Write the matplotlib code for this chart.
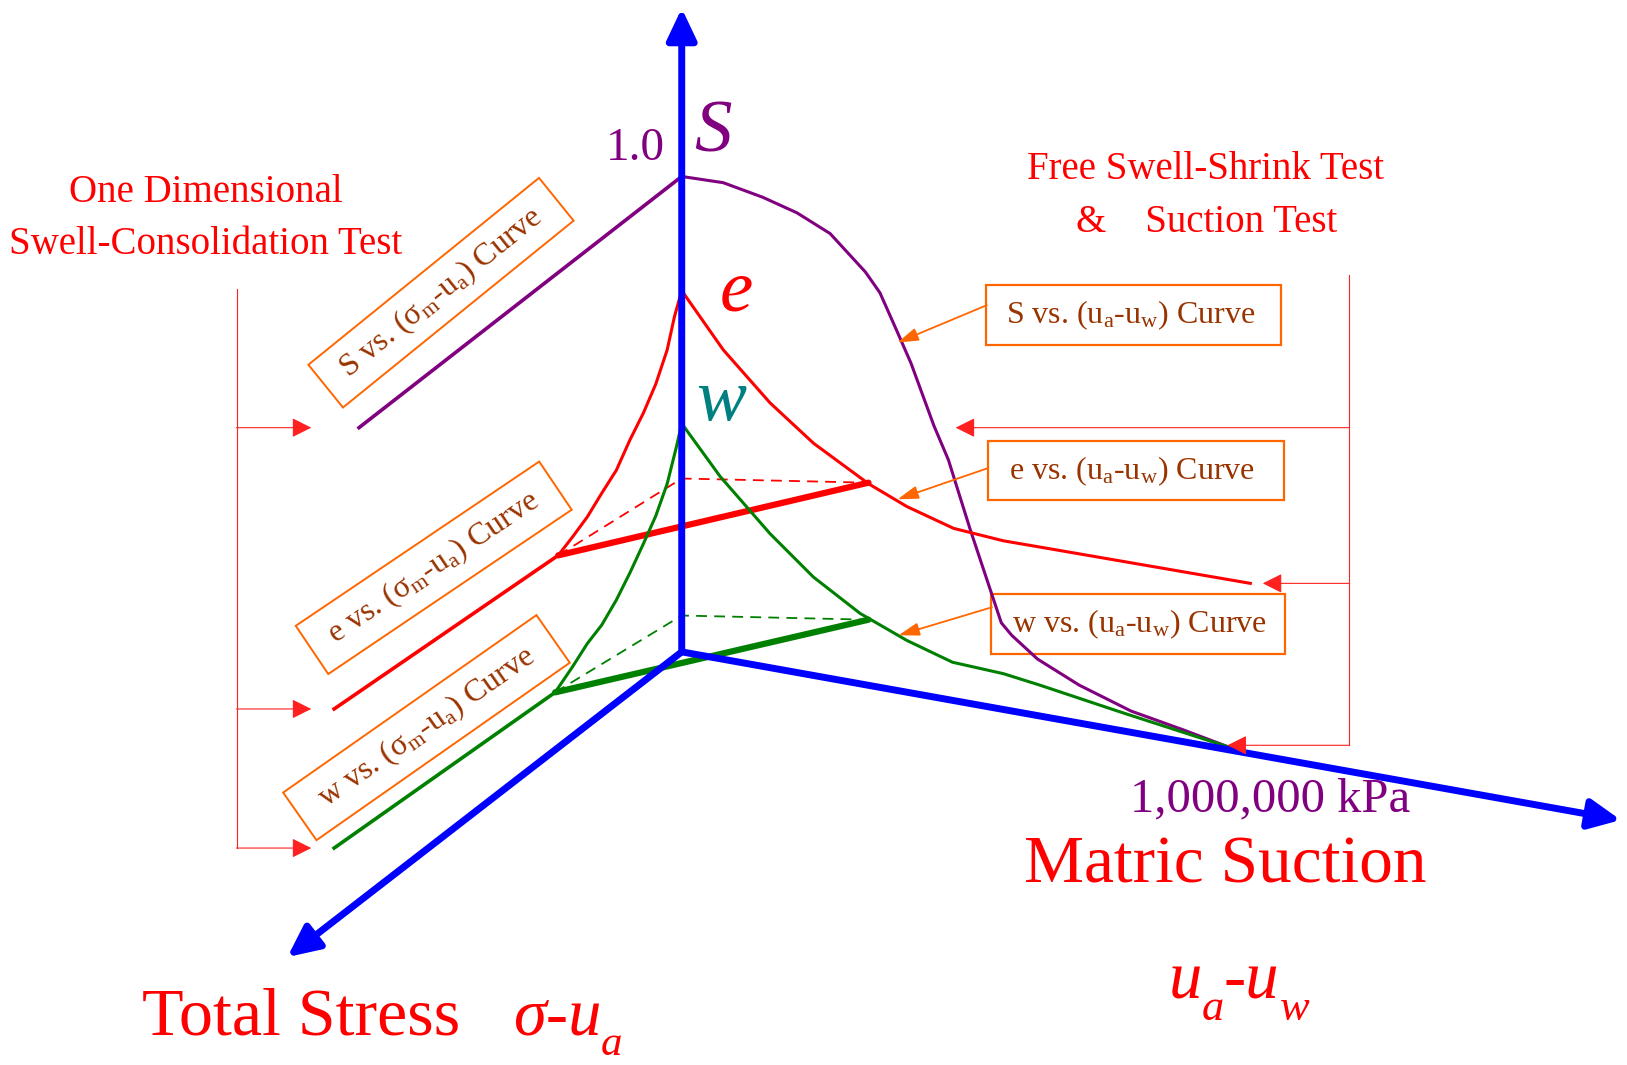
import matplotlib
matplotlib.use('Agg')
import matplotlib.pyplot as plt
from matplotlib.patches import Rectangle

plt.rcParams['font.family'] = ['Liberation Serif', 'DejaVu Serif']
plt.rcParams['mathtext.fontset'] = 'custom'
plt.rcParams['mathtext.rm'] = 'Liberation Serif'
plt.rcParams['mathtext.it'] = 'Liberation Serif:italic'
plt.rcParams['mathtext.bf'] = 'Liberation Serif:bold'

# --- osnove dijagrama (koordinate crteza, y raste nadole) ---
origin = (657, 628)
tip_vertical = (657, 8)
tip_suction = (1562, 790)
tip_stress = (277, 922)

# S kriva: grana po sukciji (desno) i prava po naponu (levo)
s_suction_x = [657, 697, 735, 768, 800, 834, 848, 864, 878, 900, 914, 935, 950, 965, 975, 1000, 1040, 1090, 1140, 1185]
s_suction_y = [170, 176, 190, 205, 225, 262, 282, 318, 350, 410, 443, 510, 555, 600, 612, 635, 660, 685, 703, 720]
s_stress_x = [657, 346]
s_stress_y = [170, 412]

# e kriva
e_left_x = [657, 650, 643, 632, 620, 607, 594, 580, 566, 552, 538]
e_left_y = [280, 305, 337, 370, 398, 424, 453, 475, 498, 517, 535]
e_stress_x = [538, 322]
e_stress_y = [535, 683]
e_suction_x = [657, 697, 742, 784, 837, 874, 919, 967, 1002, 1205]
e_suction_y = [280, 337, 388, 427, 466, 488, 509, 521, 527, 562]
e_bold_x = [538, 837]
e_bold_y = [535, 465]
e_dash_x = [538, 657, 837]
e_dash_y = [535, 461, 465]

# w kriva
w_left_x = [657, 652, 643, 632, 620, 607, 594, 580, 566, 552, 535]
w_left_y = [408, 430, 466, 497, 524, 552, 578, 602, 620, 642, 667]
w_stress_x = [535, 322]
w_stress_y = [667, 817]
w_suction_x = [657, 694, 742, 784, 829, 874, 918, 967, 1002, 1080, 1185]
w_suction_y = [408, 459, 514, 556, 591, 617, 638, 649, 660, 686, 720]
w_bold_x = [535, 837]
w_bold_y = [667, 597]
w_dash_x = [535, 657, 837]
w_dash_y = [667, 593, 597]

# nagnute kutije (centar, sirina, visina, ugao)
left_labels = ['S vs. (σ$_\\mathrm{m}$-u$_\\mathrm{a}$) Curve',
               'e vs. (σ$_\\mathrm{m}$-u$_\\mathrm{a}$) Curve',
               'w vs. (σ$_\\mathrm{m}$-u$_\\mathrm{a}$) Curve']
left_box_cx = [425, 418, 411]
left_box_cy = [282, 547, 701]
left_box_w = [286, 283, 298]
left_box_h = [53, 56, 56]
left_box_angle = [39, 34, 35]

# uspravne kutije desno
right_labels = ['S vs. (u$_\\mathrm{a}$-u$_\\mathrm{w}$) Curve',
                'e vs. (u$_\\mathrm{a}$-u$_\\mathrm{w}$) Curve',
                'w vs. (u$_\\mathrm{a}$-u$_\\mathrm{w}$) Curve']
right_box_x0 = [950, 952, 955]
right_box_x1 = [1235, 1237, 1238]
right_box_y0 = [275, 425, 572]
right_box_y1 = [332, 482, 630]
pointer_from = [(951, 294), (952, 451), (956, 585)]
pointer_to = [(865, 330), (865, 481), (866, 612)]

# zagrade sa strelicama
left_bracket_x = 228
left_bracket_top = 278
left_bracket_rows = [412, 683, 817]
left_bracket_tip = 300
right_bracket_x = 1300
right_bracket_top = 265
right_bracket_rows = [412, 562, 718]
right_bracket_tips = [921, 1217, 1183]

BLUE = '#0000FF'
PURPLE = '#800080'
RED = '#FF0000'
GREEN = '#008000'
TEAL = '#008080'
ORANGE = '#FF6600'
BROWN = '#993300'

fig = plt.figure(figsize=(16.27, 10.65), dpi=100)
ax = fig.add_axes([0, 0, 1, 1])
ax.set_xlim(0, 1568)
ax.set_ylim(1026, 0)
ax.axis('off')
renderer = fig.canvas.get_renderer()


def arrow(p_from, p_to, color, lw, style, ms):
    ax.annotate('', xy=p_to, xytext=p_from,
                arrowprops=dict(arrowstyle=style, color=color, lw=lw,
                                shrinkA=0, shrinkB=0, mutation_scale=ms))


def italic_with_subs(x, y, parts, size, sub_size, drop):
    # niz delova (tekst, da li je indeks); indeksi su spusteni vise nego u mathtext-u
    cur = x
    for txt, is_sub in parts:
        t = ax.text(cur, y + drop if is_sub else y, txt, color=RED, style='italic',
                    fontsize=sub_size if is_sub else size, ha='left', va='baseline')
        bb = t.get_window_extent(renderer)
        cur = ax.transData.inverted().transform((bb.x1, bb.y0))[0]


# ose
for tip in (tip_vertical, tip_suction, tip_stress):
    arrow(origin, tip, BLUE, 5, '-|>,head_length=0.95,head_width=0.45', 20)

# krive
ax.plot(s_suction_x, s_suction_y, color=PURPLE, lw=2.2)
ax.plot(s_stress_x, s_stress_y, color=PURPLE, lw=2.6)

ax.plot(e_left_x, e_left_y, color=RED, lw=2.2)
ax.plot(e_suction_x, e_suction_y, color=RED, lw=2.2)
ax.plot(e_stress_x, e_stress_y, color=RED, lw=2.6)
ax.plot(e_dash_x, e_dash_y, color=RED, lw=1.3, dashes=(6, 4))
ax.plot(e_bold_x, e_bold_y, color=RED, lw=4.5, solid_capstyle='round')

ax.plot(w_left_x, w_left_y, color=GREEN, lw=2.2)
ax.plot(w_suction_x, w_suction_y, color=GREEN, lw=2.2)
ax.plot(w_stress_x, w_stress_y, color=GREEN, lw=2.6)
ax.plot(w_dash_x, w_dash_y, color=GREEN, lw=1.3, dashes=(6, 4))
ax.plot(w_bold_x, w_bold_y, color=GREEN, lw=4.5, solid_capstyle='round')

# nagnute kutije sa natpisima
for lab, cx, cy, w, h, ang in zip(left_labels, left_box_cx, left_box_cy,
                                  left_box_w, left_box_h, left_box_angle):
    ax.add_patch(Rectangle((cx - w / 2, cy - h / 2), w, h, angle=-ang,
                           rotation_point='center', fill=False, ec=ORANGE, lw=1.4))
    ax.text(cx, cy, lab, rotation=ang, rotation_mode='anchor', ha='center',
            va='center', color=BROWN, fontsize=23)

# desne kutije
for lab, x0, x1, y0, y1, pf, pt in zip(right_labels, right_box_x0, right_box_x1,
                                       right_box_y0, right_box_y1, pointer_from, pointer_to):
    ax.add_patch(Rectangle((x0, y0), x1 - x0, y1 - y0, fill=False, ec=ORANGE, lw=1.6))
    ax.text(x0 + 20, (y0 + y1) / 2, lab, ha='left', va='center', color=BROWN, fontsize=23)
    arrow(pf, pt, ORANGE, 1.3, '-|>,head_length=0.7,head_width=0.22', 18)

# zagrade
ax.plot([left_bracket_x, left_bracket_x], [left_bracket_top, left_bracket_rows[-1]],
        color='#FF2020', lw=0.8)
for yr in left_bracket_rows:
    arrow((left_bracket_x, yr), (left_bracket_tip, yr), '#FF2020', 0.8,
          '-|>,head_length=0.6,head_width=0.3', 20)
ax.plot([right_bracket_x, right_bracket_x], [right_bracket_top, right_bracket_rows[-1]],
        color='#FF2020', lw=0.8)
for yr, xt in zip(right_bracket_rows, right_bracket_tips):
    arrow((right_bracket_x, yr), (xt, yr), '#FF2020', 0.8,
          '-|>,head_length=0.6,head_width=0.3', 20)

# oznake na osi
ax.text(612, 143, '1.0', color=PURPLE, fontsize=34, ha='center', va='center')
ax.text(687, 129, 'S', color=PURPLE, fontsize=54, style='italic', ha='center', va='center')
ax.text(710, 282, 'e', color=RED, fontsize=54, style='italic', ha='center', va='center')
ax.text(695, 388, 'w', color=TEAL, fontsize=54, style='italic', ha='center', va='center')

# naslovi testova
ax.text(198, 185, 'One Dimensional', color=RED, fontsize=28, ha='center', va='center')
ax.text(198, 236, 'Swell-Consolidation Test', color=RED, fontsize=28, ha='center', va='center')
ax.text(1162, 163, 'Free Swell-Shrink Test', color=RED, fontsize=28, ha='center', va='center')
ax.text(1163, 214, '&    Suction Test', color=RED, fontsize=28, ha='center', va='center')

# nazivi osa
ax.text(1224, 770, '1,000,000 kPa', color=PURPLE, fontsize=35, ha='center', va='center')
ax.text(1181, 850, 'Matric Suction', color=RED, fontsize=48.5, ha='center', va='baseline')
ax.text(290, 997, 'Total Stress', color=RED, fontsize=49, ha='center', va='baseline')
italic_with_subs(494, 997, [('σ-u', False), ('a', True)], 48, 31, 19)
italic_with_subs(1126, 962, [('u', False), ('a', True), ('-u', False), ('w', True)], 48, 32, 21)

fig.savefig('out.png', dpi=100)
